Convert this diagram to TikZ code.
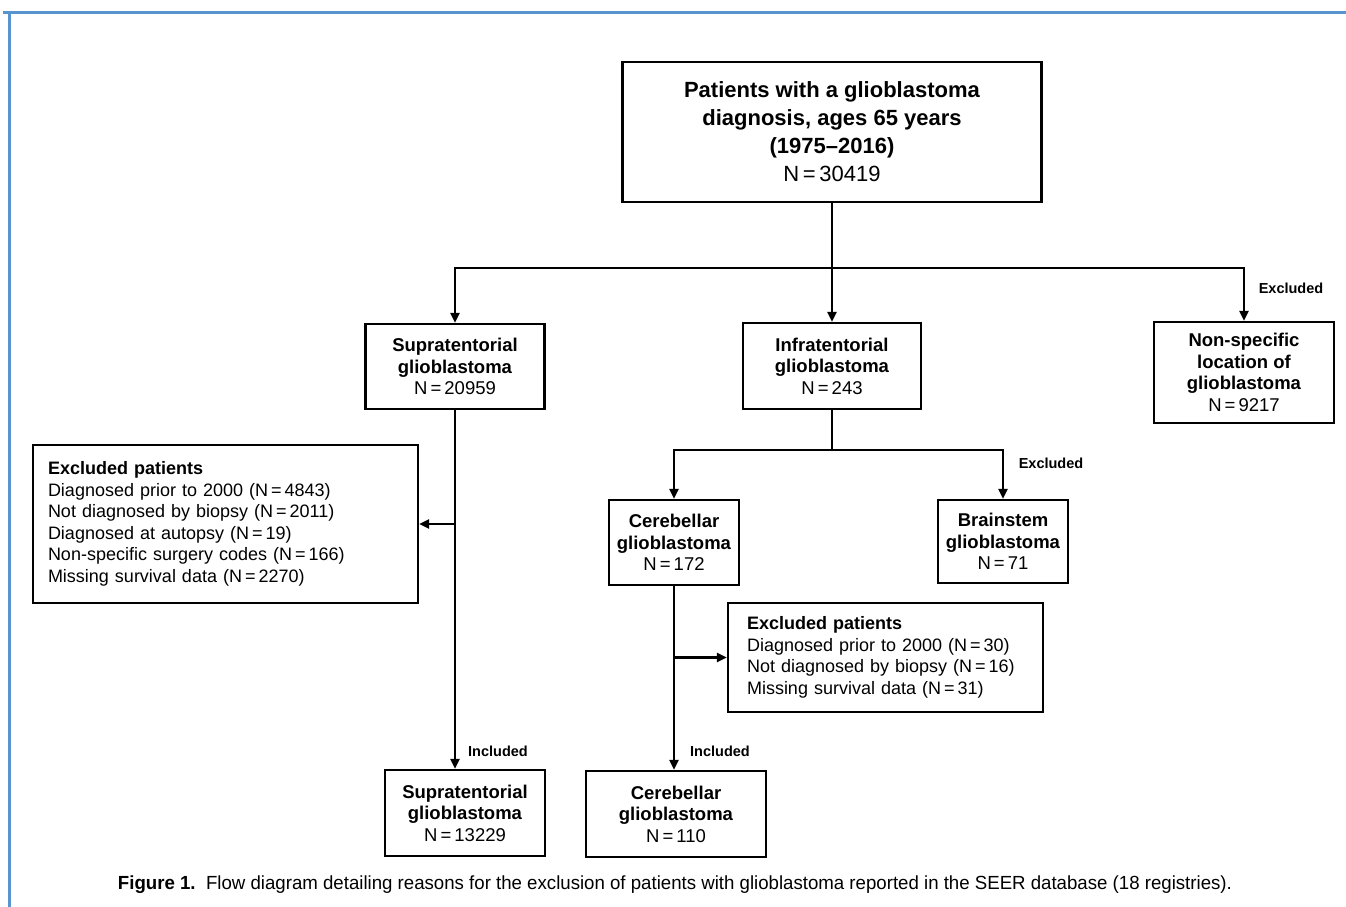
\documentclass[tikz,border=0pt]{standalone}
\usepackage{fontspec}
\setmainfont{Liberation Sans}
\usetikzlibrary{arrows.meta}
\definecolor{frameblue}{RGB}{88,148,206}
\tikzset{
  box/.style={draw, line width=2.2pt, align=center, inner sep=3pt,
    font=\fontsize{18.5}{21.5}\selectfont},
  listbox/.style={draw, line width=2.2pt, align=left, inner ysep=6pt,
    font=\fontsize{18}{21.5}\selectfont},
  flow/.style={line width=2.2pt, -{Triangle[length=10pt,width=9pt]}},
  tag/.style={font=\fontsize{14.5}{17}\selectfont\bfseries},
}
\begin{document}
\begin{tikzpicture}[x=1pt,y=-1pt]
  \useasboundingbox (0,0) rectangle (1346,907);
  % Blue frame
  \draw[frameblue, line width=3pt] (3,13) -- (1346,13);
  \draw[frameblue, line width=3pt] (9,13) -- (9,907);

  % Boxes
  \node[box, minimum width=419pt, minimum height=140pt,
        font=\fontsize{22}{28}\selectfont] (all) at (832,132)
    {\textbf{Patients with a glioblastoma}\\\textbf{diagnosis, ages 65 years}\\
     \textbf{(1975--2016)}\\N\,=\,30419};
  \node[box, minimum width=179pt, minimum height=85pt] (supra) at (455,366.5)
    {\textbf{Supratentorial}\\\textbf{glioblastoma}\\N\,=\,20959};
  \node[box, minimum width=178pt, minimum height=86pt] (infra) at (832,366)
    {\textbf{Infratentorial}\\\textbf{glioblastoma}\\N\,=\,243};
  \node[box, minimum width=180pt, minimum height=101pt] (nonspec) at (1244,372.5)
    {\textbf{Non-specific}\\\textbf{location of}\\\textbf{glioblastoma}\\N\,=\,9217};
  \node[listbox, inner xsep=15pt, text width=355pt, minimum height=158pt]
    (exclsupra) at (225.5,524)
    {\textbf{Excluded patients}\\
     Diagnosed prior to 2000 (N\,=\,4843)\\
     Not diagnosed by biopsy (N\,=\,2011)\\
     Diagnosed at autopsy (N\,=\,19)\\
     Non-specific surgery codes (N\,=\,166)\\
     Missing survival data (N\,=\,2270)};
  \node[box, minimum width=130pt, minimum height=85pt] (cereb) at (674,542.5)
    {\textbf{Cerebellar}\\\textbf{glioblastoma}\\N\,=\,172};
  \node[box, minimum width=130pt, minimum height=83pt] (brain) at (1003,541.5)
    {\textbf{Brainstem}\\\textbf{glioblastoma}\\N\,=\,71};
  \node[listbox, inner xsep=19pt, text width=277pt, minimum height=109pt]
    (exclcereb) at (885.5,657.5)
    {\textbf{Excluded patients}\\
     Diagnosed prior to 2000 (N\,=\,30)\\
     Not diagnosed by biopsy (N\,=\,16)\\
     Missing survival data (N\,=\,31)};
  \node[box, minimum width=160pt, minimum height=86pt] (suprafinal) at (465,813)
    {\textbf{Supratentorial}\\\textbf{glioblastoma}\\N\,=\,13229};
  \node[box, minimum width=180pt, minimum height=86pt] (cerebfinal) at (676,814)
    {\textbf{Cerebellar}\\\textbf{glioblastoma}\\N\,=\,110};

  % Connectors
  \coordinate (split) at (832,268);
  \coordinate (splitinfra) at (832,450);
  \draw[line width=2.2pt] (all.south) -- (split);
  \draw[flow] (split) -| (supra.north);
  \draw[flow] (split) -- (infra.north);
  \draw[flow] (split) -| (nonspec.north);
  \draw[flow] (supra.south) -- (supra.south |- suprafinal.north);
  \draw[flow] (supra.south |- exclsupra.east) -- (exclsupra.east);
  \draw[line width=2.2pt] (infra.south) -- (splitinfra);
  \draw[flow] (splitinfra) -| (cereb.north);
  \draw[flow] (splitinfra) -| (brain.north);
  \draw[flow] (cereb.south) -- (cereb.south |- cerebfinal.north);
  \draw[flow] (cereb.south |- exclcereb.west) -- (exclcereb.west);

  % Labels
  \node[tag] (tagnonspec) at (1291,288) {Excluded};
  \node[tag] (tagbrain) at (1051,463) {Excluded};
  \node[tag] (tagsupra) at (498,751) {Included};
  \node[tag] (tagcereb) at (720,751) {Included};

  % Caption
  \node (caption) at (675,885) {\resizebox{1114pt}{\height}{\fontsize{19}{22}\selectfont
    \textbf{Figure 1.}\ \ Flow diagram detailing reasons for the exclusion of patients
    with glioblastoma reported in the SEER database (18 registries).}};
\end{tikzpicture}
\end{document}
